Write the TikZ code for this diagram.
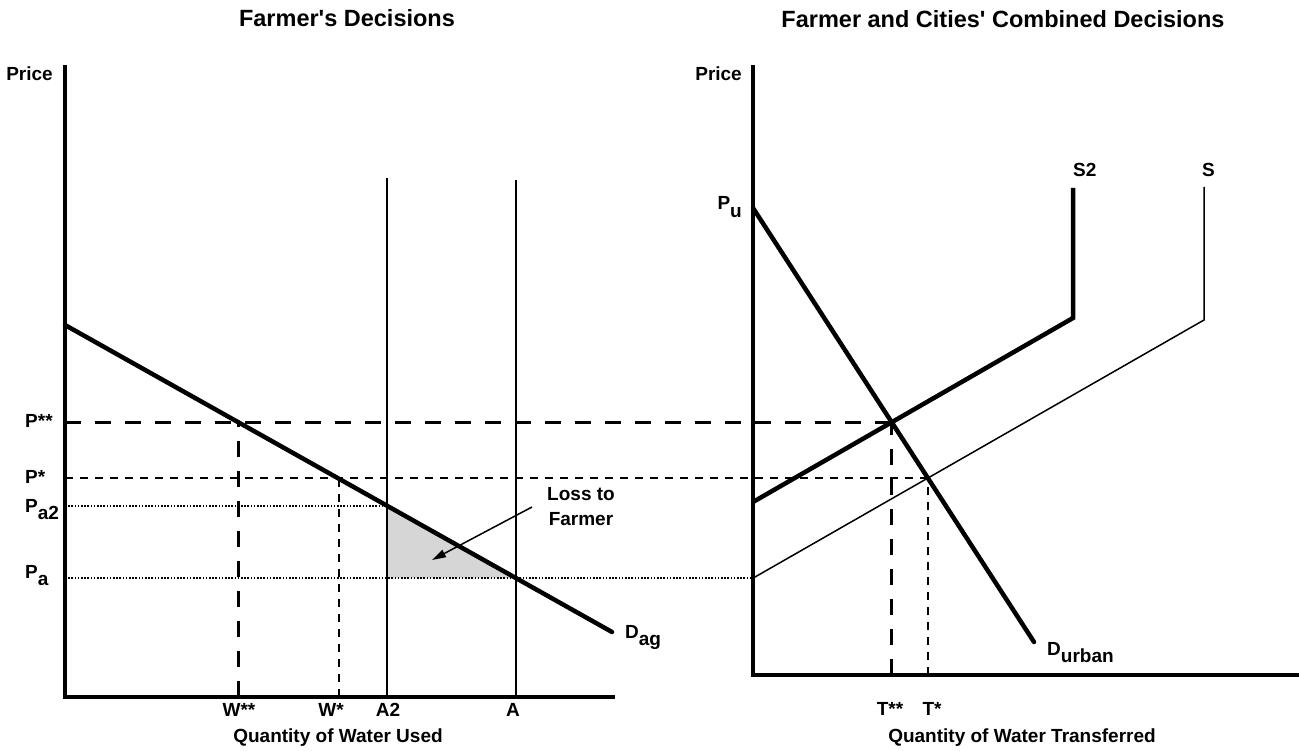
\documentclass[tikz,border=0pt]{standalone}
\usepackage{fontspec}
\setmainfont{Liberation Sans}
\usetikzlibrary{arrows.meta}
\newcommand\lowsub[1]{\raisebox{-0.42em}{#1}}
\tikzset{
  lbl/.style={font=\fontsize{19}{25}\selectfont\bfseries, inner sep=0pt},
  ttl/.style={font=\fontsize{23.5}{27}\selectfont\bfseries, inner sep=0pt},
  axis/.style={line width=4.5pt, line join=miter},
  curve/.style={line width=4.5pt, line cap=round},
  thinline/.style={line width=1.5pt},
  bigdash/.style={line width=3pt, dash pattern=on 16pt off 14pt},
  smalldash/.style={line width=1.5pt, dash pattern=on 8pt off 7pt},
  fine/.style={line width=1.6pt, dash pattern=on 1.6pt off 1.6pt},
  pointer/.style={line width=1.5pt, -{Triangle[length=14pt,width=8pt]}},
  shade/.style={fill=black!16}
}
\begin{document}
\begin{tikzpicture}[x=1pt, y=-1pt]
\useasboundingbox (0,0) rectangle (1299,751);
% ---- left chart coordinates
\coordinate (Y1) at (65,65);
\coordinate (O1) at (65,697);
\coordinate (X1) at (615,697);
\coordinate (D1) at (65,325);
\coordinate (D2) at (612,632);
\coordinate (A2t) at (387,178);
\coordinate (A2b) at (387,697);
\coordinate (At) at (516,180);
\coordinate (Ab) at (516,697);
\coordinate (W2) at (238,697);
\coordinate (W1) at (339,697);
% ---- right chart coordinates
\coordinate (Y2) at (753,65);
\coordinate (O2) at (753,675);
\coordinate (X2) at (1299,675);
\coordinate (Pu) at (753,208);
\coordinate (Du) at (1034,642);
\coordinate (S2a) at (753,502);
\coordinate (S2b) at (1073,318);
\coordinate (S2c) at (1073,188);
\coordinate (Sb) at (1204,320);
\coordinate (Sc) at (1204,187);
% intersections
\coordinate (Q2) at (intersection of D1--D2 and A2t--A2b);
\coordinate (Q1) at (intersection of D1--D2 and At--Ab);
\coordinate (Sa) at (O2 |- Q1);
\coordinate (E2) at (intersection of Pu--Du and S2a--S2b);
\coordinate (E1) at (intersection of Pu--Du and Sa--Sb);
\coordinate (T2) at (O2 -| E2);
\coordinate (T1) at (O2 -| E1);
% shaded loss
\fill[shade] (Q2) -- (Q1) -- (A2b |- Q1) -- cycle;
% guide lines
\draw[bigdash] (Y1 |- E2) -- (E2);
\draw[smalldash] (Y1 |- E1) -- (E1);
\draw[fine] (Y1 |- Q2) -- (Q2);
\draw[fine] (Y1 |- Q1) -- (Sa);
\draw[bigdash] (W2) -- (W2 |- E2);
\draw[smalldash] (W1) -- (W1 |- E1);
\draw[bigdash] (T2) -- (E2);
\draw[smalldash] (T1) -- (E1);
% left chart
\draw[line width=2.5pt] (A2t) -- (A2b);
\draw[thinline] (At) -- (Ab);
\draw[curve] (D1) -- (D2);
\draw[axis] (Y1) -- (O1) -- (X1);
% right chart
\draw[curve] (Pu) -- (Du);
\draw[line width=4.5pt, line join=miter] (S2a) -- (S2b) -- (S2c);
\draw[thinline] (Sa) -- (Sb) -- (Sc);
\draw[axis] (Y2) -- (O2) -- (X2);
% arrow
\coordinate (La) at (532,507);
\coordinate (Lb) at (432,560);
\draw[pointer] (La) -- (Lb);
% titles
\node[ttl, anchor=base] (t1) at (347,27) {Farmer\textquotesingle s Decisions};
\node[ttl, anchor=base] (t2) at (1003,28) {Farmer and Cities\textquotesingle\ Combined Decisions};
% axis labels
\node[lbl, anchor=base east] (pr1) at (53,81) {Price};
\node[lbl, anchor=base east] (pr2) at (742,81) {Price};
\node[lbl, anchor=base] (qw) at (338,742) {Quantity of Water Used};
\node[lbl, anchor=base] (qt) at (1022,742) {Quantity of Water Transferred};
\node[lbl, anchor=base] (lw2) at (239,716) {W**};
\node[lbl, anchor=base] (lw1) at (331,716) {W*};
\node[lbl, anchor=base] (la2) at (388,716) {A2};
\node[lbl, anchor=base] (la) at (513,716) {A};
\node[lbl, anchor=base] (lt2) at (890,715) {T**};
\node[lbl, anchor=base] (lt1) at (932,715) {T*};
\node[lbl, anchor=base west] (lp2) at (25,427) {P**};
\node[lbl, anchor=base west] (lp1) at (25,483) {P*};
\node[lbl, anchor=base west] (lpa2) at (25,512) {P\lowsub{a2}};
\node[lbl, anchor=base west] (lpa) at (25,578) {P\lowsub{a}};
\node[lbl, anchor=base east] (lpu) at (742,210) {P\lowsub{u}};
\node[lbl, anchor=base west] (ldag) at (625,638) {D\lowsub{ag}};
\node[lbl, anchor=base west] (ldu) at (1047,655) {D\lowsub{urban}};
\node[lbl, anchor=base west] (ls2) at (1073,177) {S2};
\node[lbl, anchor=base west] (ls) at (1202,177) {S};
\node[lbl, align=center] (loss) at (581,507) {Loss to\\Farmer};
\end{tikzpicture}
\end{document}
